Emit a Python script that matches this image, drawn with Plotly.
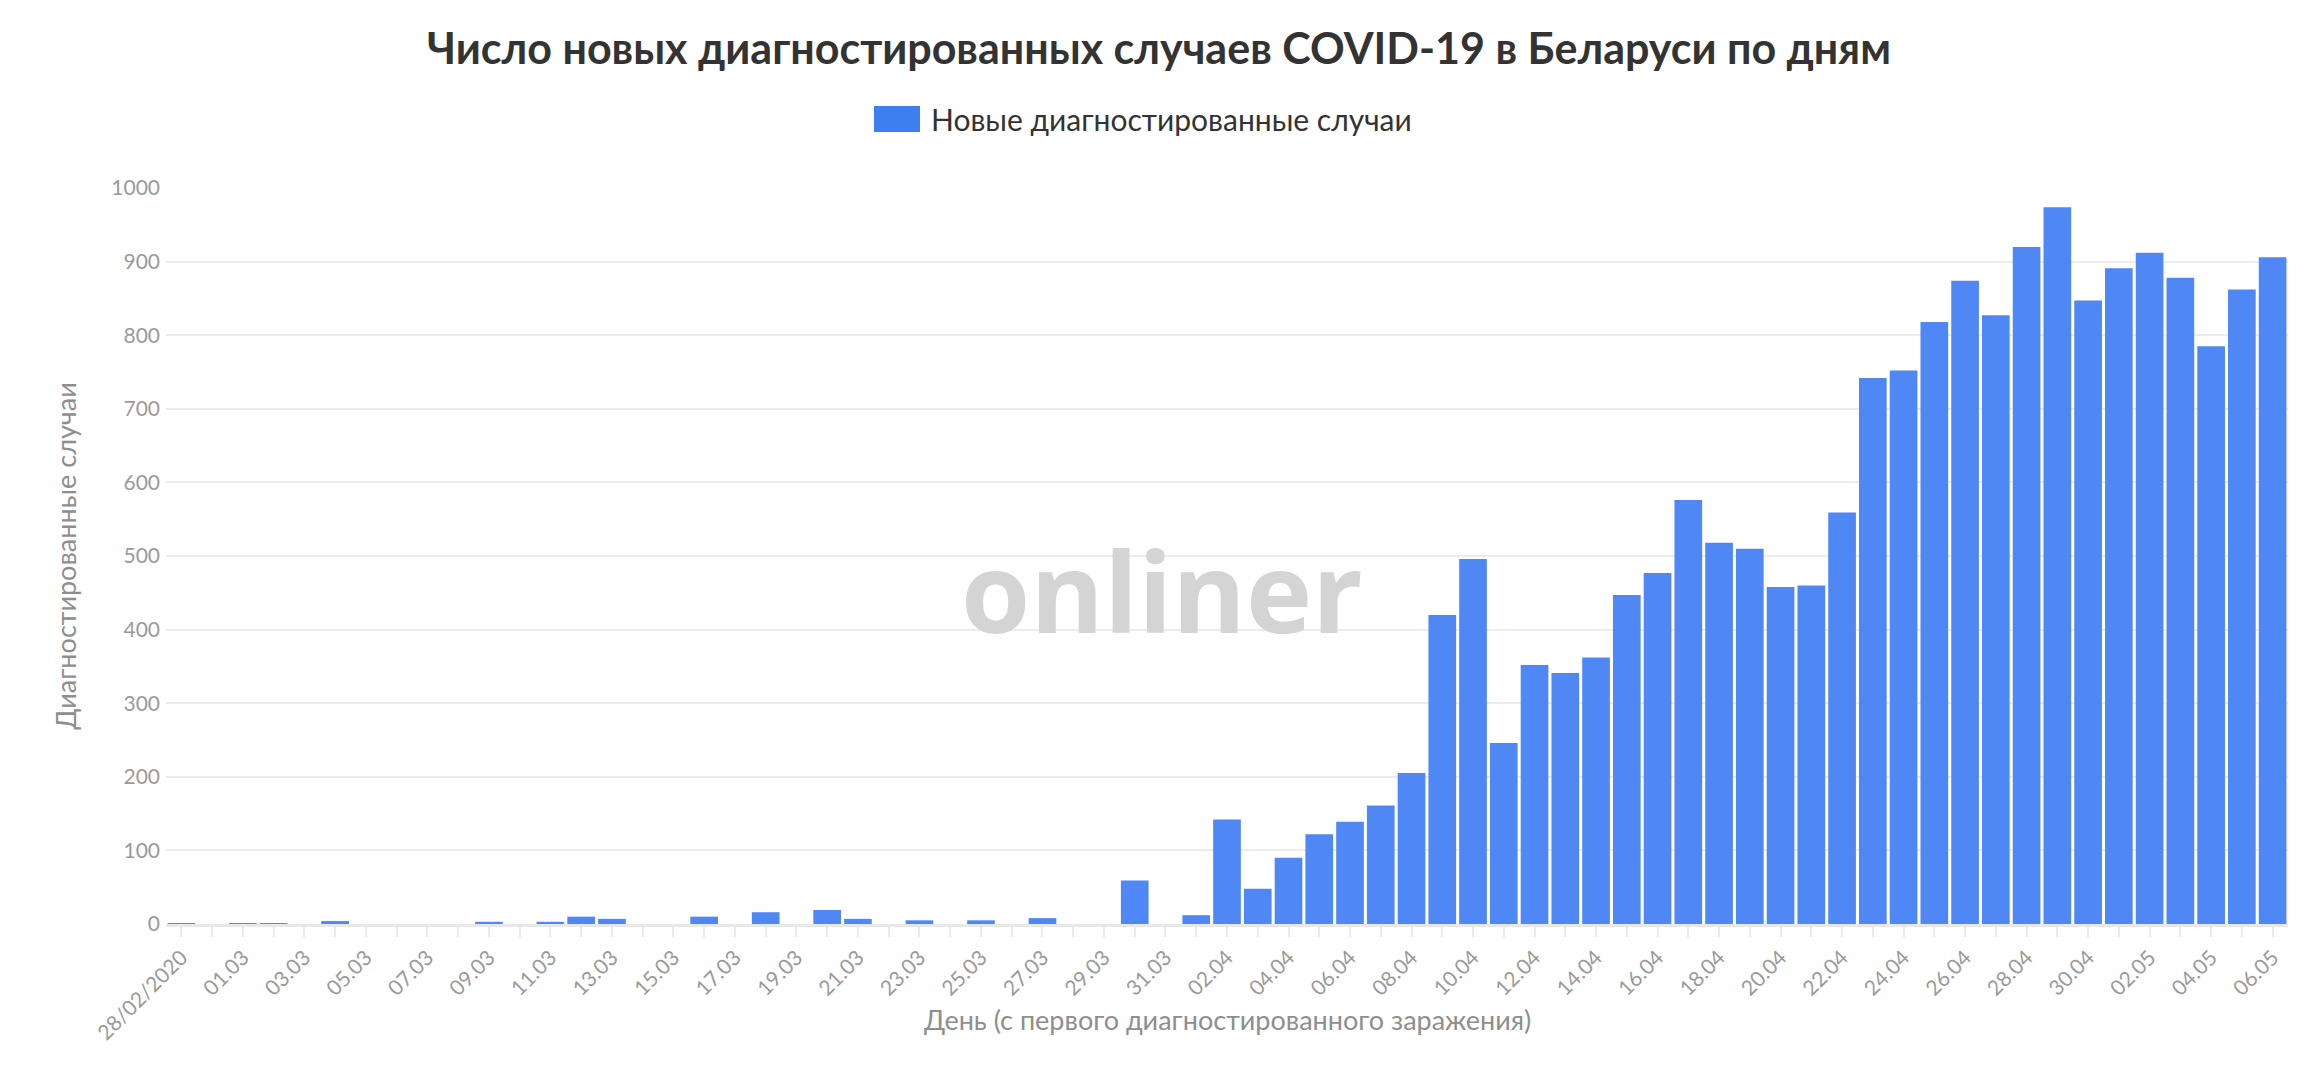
import plotly.graph_objects as go

days = ["28.02", "29.02",
        "01.03", "02.03", "03.03", "04.03", "05.03", "06.03", "07.03", "08.03", "09.03", "10.03",
        "11.03", "12.03", "13.03", "14.03", "15.03", "16.03", "17.03", "18.03", "19.03", "20.03",
        "21.03", "22.03", "23.03", "24.03", "25.03", "26.03", "27.03", "28.03", "29.03", "30.03", "31.03",
        "01.04", "02.04", "03.04", "04.04", "05.04", "06.04", "07.04", "08.04", "09.04", "10.04",
        "11.04", "12.04", "13.04", "14.04", "15.04", "16.04", "17.04", "18.04", "19.04", "20.04",
        "21.04", "22.04", "23.04", "24.04", "25.04", "26.04", "27.04", "28.04", "29.04", "30.04",
        "01.05", "02.05", "03.05", "04.05", "05.05", "06.05"]

new_cases = [1, 0,
             1, 1, 0, 4, 0, 0, 0, 0, 3, 0,
             3, 10, 7, 0, 0, 10, 0, 16, 0, 19,
             7, 0, 5, 0, 5, 0, 8, 0, 0, 59, 0,
             12, 142, 48, 90, 122, 139, 161, 205, 420, 496,
             246, 352, 341, 362, 447, 477, 576, 518, 510, 458,
             460, 559, 742, 752, 818, 874, 827, 920, 974, 847,
             891, 912, 878, 785, 862, 906]

first_label = "28/02/2020"
y_ticks = [0, 100, 200, 300, 400, 500, 600, 700, 800, 900, 1000]

title_text = "Число новых диагностированных случаев COVID-19 в Беларуси по дням"
series_name = "Новые диагностированные случаи"
x_title = "День (с первого диагностированного заражения)"
y_title = "Диагностированные случаи"
watermark = "onliner"

tick_text = []
for i, d in enumerate(days):
    if i == 0:
        tick_text.append(first_label)
    elif i % 2 == 0:
        tick_text.append(d)
    else:
        tick_text.append("")

W, H = 2318, 1068
L, R, T, B = 166, 30, 188, 144
pw = W - L - R
ph = H - T - B

def px_x(x):
    return (x - L) / pw

def px_y(y):
    return (H - B - y) / ph

fig = go.Figure()
fig.add_trace(go.Bar(
    x=days, y=new_cases, name=series_name,
    marker=dict(color="#4f88f5", line=dict(width=0)),
    showlegend=False,
))

fig.update_layout(
    width=W, height=H,
    margin=dict(l=L, r=R, t=T, b=B, autoexpand=False),
    paper_bgcolor="white", plot_bgcolor="white",
    bargap=0.1,
    title=dict(text="<b>" + title_text + "</b>", x=0.5, xref="container", xanchor="center",
               y=1 - 49 / H, yanchor="middle", yref="container",
               font=dict(family="Lato", size=43, color="#333333")),
    xaxis=dict(
        type="category", range=[-0.5, len(days) - 0.5], automargin=False,
        tickmode="array", tickvals=days, ticktext=tick_text,
        tickangle=-45, ticks="outside", ticklen=10, tickwidth=2, tickcolor="#ebebeb",
        tickfont=dict(family="Lato", size=21, color="#9a9a9a"),
        showgrid=False, showline=True, linecolor="#e8e8e8", linewidth=3,
    ),
    yaxis=dict(
        range=[0, 1000], tickmode="array", tickvals=y_ticks, automargin=False,
        tickfont=dict(family="Lato", size=21, color="#9a9a9a"),
        ticklabelstandoff=5,
        showgrid=True, gridcolor="#ececec", gridwidth=2,
        zeroline=False, showline=False, ticks="",
        title=dict(text=y_title, font=dict(family="Lato", size=27, color="#8e8e8e"), standoff=26),
    ),
    font=dict(family="Lato"),
)

# x-axis title (placed as in the reference, beside the rotated labels)
fig.add_annotation(text=x_title, xref="paper", yref="paper",
                   x=0.5, y=px_y(1020), xanchor="center", yanchor="middle",
                   showarrow=False, font=dict(family="Lato", size=27, color="#8e8e8e"))

# legend (manual)
fig.add_shape(type="rect", xref="paper", yref="paper",
              x0=px_x(874), x1=px_x(920), y0=px_y(132), y1=px_y(106),
              fillcolor="#3d7ef0", line=dict(width=0), layer="above")
fig.add_annotation(text=series_name, xref="paper", yref="paper",
                   x=px_x(929), y=px_y(119), xanchor="left", yanchor="middle",
                   showarrow=False, font=dict(family="Lato", size=30, color="#333333"))

# watermark
fig.add_annotation(text="<b>" + watermark + "</b>", xref="paper", yref="paper",
                   x=px_x(1162), y=px_y(589), xanchor="center", yanchor="middle",
                   showarrow=False, font=dict(family="Open Sans", size=112, color="#d4d4d4"))

fig.write_html("out.html")
